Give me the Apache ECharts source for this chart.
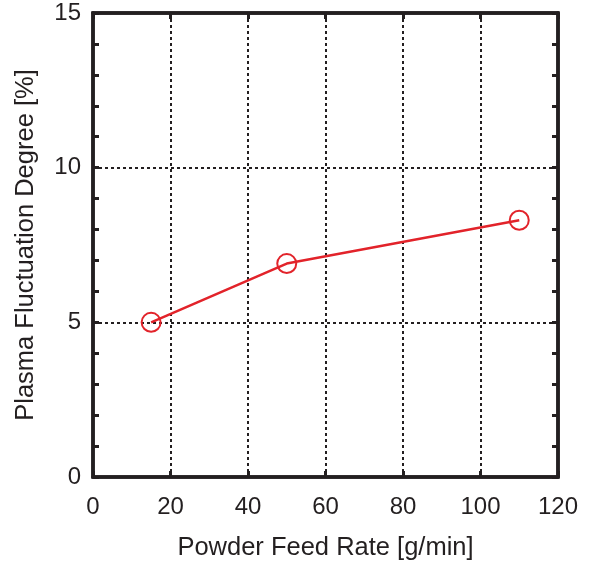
<!DOCTYPE html>
<html><head><meta charset="utf-8">
<script src="https://cdn.jsdelivr.net/npm/echarts@6/dist/echarts.min.js"></script>
<style>html,body{margin:0;padding:0;background:#fff}#c{width:590px;height:563px}</style>
</head><body><div id="c"></div>
<script>
const feedRate = [15, 50, 110];
const fluctuation = [5.0, 6.9, 8.3];
const xTitle = 'Powder Feed Rate [g/min]';
const yTitle = 'Plasma Fluctuation Degree [%]';

const black = '#231f20';
const red = '#e2232a';
const font = 'Liberation Sans, Arial, sans-serif';
const gridLine = {show:true, lineStyle:{color:black, width:2, type:[3,3]}};
const tick = {show:true, inside:true, length:6, lineStyle:{color:black, width:3}};
const minor = {show:true, splitNumber:5, length:6, lineStyle:{color:black, width:3}};
const frameLine = {show:true, onZero:false, lineStyle:{color:black, width:3.5}};

const chart = echarts.init(document.getElementById('c'));
chart.setOption({
  animation:false,
  grid:{left:93, top:13, right:32, bottom:86, containLabel:false, outerBoundsMode:'none',
        show:true, borderColor:black, borderWidth:3.5, backgroundColor:'transparent'},
  xAxis:[{
    type:'value', min:0, max:120, interval:20, position:'bottom',
    name:xTitle, nameLocation:'middle', nameGap:58,
    nameTextStyle:{color:'#231f20', fontSize:25.5, fontFamily:font},
    axisLine:frameLine, axisTick:tick,
    axisLabel:{color:'#231f20', fontSize:24, fontFamily:font, margin:18},
    splitLine:gridLine
  },{
    type:'value', min:0, max:120, interval:20, position:'top',
    axisLine:frameLine, axisTick:tick,
    axisLabel:{show:false}, splitLine:{show:false}
  }],
  yAxis:[{
    type:'value', min:0, max:15, interval:5, position:'left',
    name:yTitle, nameLocation:'middle', nameGap:54,
    nameTextStyle:{color:'#231f20', fontSize:25.5, fontFamily:font},
    axisLine:frameLine, axisTick:tick, minorTick:minor,
    axisLabel:{color:'#231f20', fontSize:24, fontFamily:font, margin:12},
    splitLine:gridLine
  },{
    type:'value', min:0, max:15, interval:5, position:'right',
    axisLine:frameLine, axisTick:tick, minorTick:minor,
    axisLabel:{show:false}, splitLine:{show:false}
  }],
  series:[{
    type:'line',
    data:feedRate.map((x,i)=>[x, fluctuation[i]]),
    xAxisIndex:0, yAxisIndex:0,
    lineStyle:{color:red, width:2.5},
    symbol:'circle', symbolSize:19,
    itemStyle:{color:'rgba(0,0,0,0)', borderColor:red, borderWidth:2},
    z:5
  },{
    type:'line', data:[], xAxisIndex:1, yAxisIndex:1, silent:true
  }]
});
</script></body></html>
